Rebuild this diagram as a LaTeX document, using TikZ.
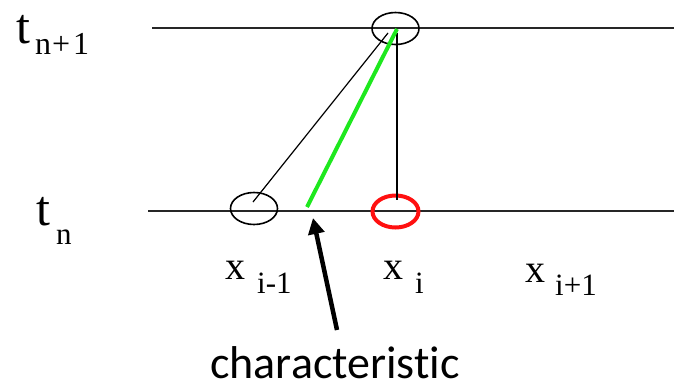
\documentclass[tikz,border=0pt]{standalone}
\usepackage{fontspec}
\setmainfont{Liberation Serif}
\newfontfamily\carlito[Ligatures=NoCommon]{Carlito}
\usepackage{tikz}
\usetikzlibrary{shapes.geometric, arrows.meta, positioning, calc}
\definecolor{chargreen}{HTML}{1EE81E}
\definecolor{nodered}{HTML}{FF1010}

\begin{document}
\begin{tikzpicture}[
  x=1pt, y=-1pt,
  gridline/.style={line width=1.6pt, black!85},
  stencil/.style={ellipse, draw, line width=1.6pt, minimum width=47pt, minimum height=32pt, inner sep=0pt},
  target/.style={ellipse, draw=nodered, line width=4pt, minimum width=46pt, minimum height=32pt, inner sep=0pt},
  lab/.style={anchor=base west, inner sep=0pt},
  arrow/.style={-{Triangle[length=16pt, width=16pt]}, line width=4.5pt}
]
  \useasboundingbox (0,0) rectangle (674,389);

  % time levels
  \coordinate (topL) at (152,28);
  \coordinate (topR) at (674,28);
  \coordinate (botL) at (148,211);
  \coordinate (botR) at (674,211);
  \draw[gridline] (topL) -- (topR);
  \draw[gridline] (botL) -- (botR);

  % stencil points
  \node[stencil] (up) at (395.5,28.5) {};
  \node[stencil] (left) at (254,208.5) {};
  \node[target] (here) at (395.5,211.5) {};

  \coordinate (upin) at (388,33);
  \coordinate (upv) at (397,33);
  \coordinate (leftin) at (253,202);
  \coordinate (herein) at (397,200);
  \draw[line width=1.2pt] (leftin) -- (upin);
  \draw[line width=1.2pt] (upv) -- (herein);

  % characteristic line
  \coordinate (foot) at (307,207);
  \coordinate (head) at (397,29);
  \draw[chargreen, line width=4pt] (foot) -- (head);

  % labels
  \node[lab] (tnp) at (16,43) {\fontsize{50}{60}\selectfont t\hspace{5pt}\raisebox{-11pt}{\fontsize{32}{34}\selectfont n\kern1pt+\kern3pt 1}};
  \node[lab] (tn) at (36,225) {\fontsize{50}{60}\selectfont t\hspace{6pt}\raisebox{-19pt}{\fontsize{31}{32}\selectfont n}};
  \node[lab] (xim) at (225,279) {\fontsize{40}{44}\selectfont x\hspace{12pt}\raisebox{-14pt}{\fontsize{31}{32}\selectfont i-1}};
  \node[lab] (xi) at (383,279) {\fontsize{40}{44}\selectfont x\hspace{12pt}\raisebox{-14pt}{\fontsize{31}{32}\selectfont i}};
  \node[lab] (xip) at (525,282) {\fontsize{40}{44}\selectfont x\hspace{10pt}\raisebox{-13pt}{\fontsize{31}{32}\selectfont i+1}};

  \node[anchor=base, inner sep=0pt] (char) at (335,378) {\carlito\fontsize{46}{50}\selectfont characteristic};
  \coordinate (tail) at (337,330);
  \coordinate (tip) at (313,218);
  \draw[arrow] (tail) -- (tip);
\end{tikzpicture}
\end{document}
